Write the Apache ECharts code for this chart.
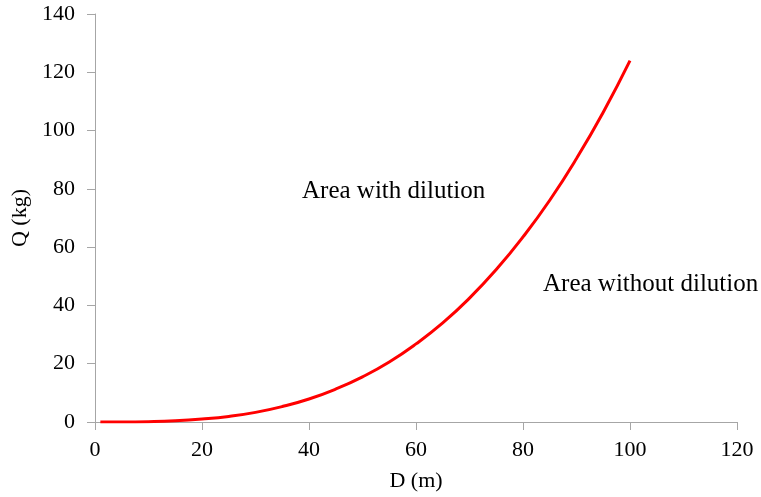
<!DOCTYPE html>
<html>
<head>
<meta charset="utf-8">
<script src="https://cdn.jsdelivr.net/npm/echarts@6/dist/echarts.min.js"></script>
<style>
  html, body { margin: 0; padding: 0; background: #fff; }
  #chart { width: 761px; height: 497px; }
</style>
</head>
<body>
<div id="chart"></div>
<script>
// Charge mass Q (kg) against distance D (m)
const distances = [1, 5, 10, 15, 20, 25, 30, 35, 40, 45, 50, 55, 60, 65, 70, 75, 80, 85, 90, 95, 100];
const charges   = [0, 0, 0.1, 0.4, 1, 1.9, 3.3, 5.3, 7.9, 11.3, 15.5, 20.6, 26.8, 34, 42.5, 52.3, 63.5, 76.1, 90.4, 106.3, 124];
const regionLabels = ['Area with dilution', 'Area without dilution'];

const FONT = '"Liberation Serif", "Times New Roman", serif';
const AXIS_GRAY = '#a6a6a6';

const chart = echarts.init(document.getElementById('chart'));
chart.setOption({
  animation: false,
  backgroundColor: '#fff',
  grid: { left: 95, right: 24, top: 14, bottom: 73 },
  xAxis: {
    type: 'value', min: 0, max: 120, interval: 20,
    name: 'D (m)', nameLocation: 'middle', nameGap: 48,
    nameTextStyle: { fontFamily: FONT, fontSize: 22, color: '#000' },
    axisLine: { lineStyle: { color: AXIS_GRAY, width: 1 } },
    axisTick: { show: true, length: 8, lineStyle: { color: AXIS_GRAY } },
    axisLabel: { fontFamily: FONT, fontSize: 22, color: '#000', margin: 17 },
    splitLine: { show: false }
  },
  yAxis: {
    type: 'value', min: 0, max: 140, interval: 20,
    name: 'Q (kg)', nameLocation: 'middle', nameGap: 62, nameRotate: 90,
    nameTextStyle: { fontFamily: FONT, fontSize: 22, color: '#000' },
    axisLine: { show: true, lineStyle: { color: AXIS_GRAY, width: 1 } },
    axisTick: { show: true, length: 8, lineStyle: { color: AXIS_GRAY } },
    axisLabel: { fontFamily: FONT, fontSize: 22, color: '#000', margin: 20 },
    splitLine: { show: false }
  },
  series: [{
    type: 'line',
    data: distances.map((d, i) => [d, charges[i]]),
    smooth: true,
    showSymbol: false,
    lineStyle: { color: '#ff0000', width: 3 }
  }],
  graphic: [
    { type: 'text', x: 302, y: 191,
      style: { text: regionLabels[0], font: '25px ' + FONT, fill: '#000', verticalAlign: 'middle' } },
    { type: 'text', x: 543, y: 284,
      style: { text: regionLabels[1], font: '25px ' + FONT, fill: '#000', verticalAlign: 'middle' } }
  ]
});
</script>
</body>
</html>
